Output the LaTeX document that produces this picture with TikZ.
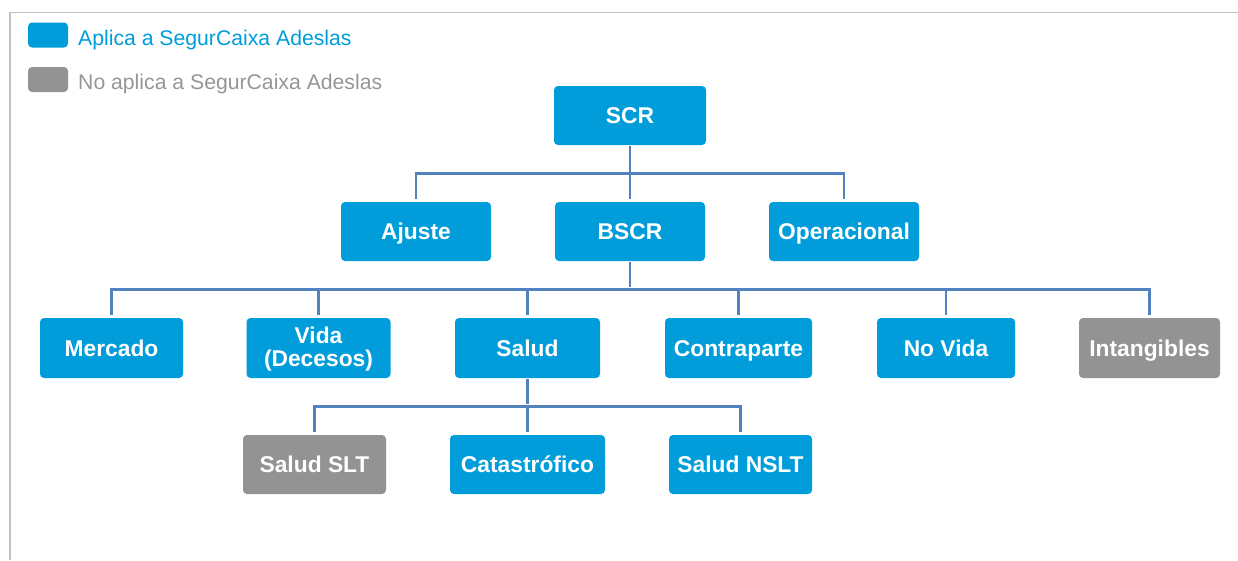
\documentclass[tikz,border=0pt]{standalone}
\usepackage{fontspec}
\setmainfont{Liberation Sans}
\usetikzlibrary{calc}
\definecolor{boxblue}{RGB}{0,157,218}
\definecolor{boxgray}{RGB}{147,147,147}
\definecolor{linkblue}{RGB}{83,131,190}
\definecolor{framegray}{RGB}{192,192,192}
\definecolor{leggray}{RGB}{150,150,150}
\tikzset{
  box/.style={fill=boxblue, rounded corners=4pt, text=white, align=center,
    font=\bfseries\fontsize{22.8}{23}\selectfont, inner sep=0pt,
    text height=16.3pt, text depth=0pt},
  graybox/.style={box, fill=boxgray},
  conn/.style={draw=linkblue, line width=2.5pt, shorten <=1pt, shorten >=3pt},
  swatch/.style={rounded corners=4pt, minimum width=40pt, minimum height=25pt, inner sep=0pt},
  legtext/.style={anchor=west, inner sep=0pt, font=\fontsize{21.2}{24}\selectfont},
}
\begin{document}
\begin{tikzpicture}[x=1pt,y=-1pt]
\useasboundingbox (0,0) rectangle (1238,560);
% frame
\draw[framegray, line width=1.5pt] (10,560) -- (10,12.5) -- (1238,12.5);
% legend
\node[swatch, fill=boxblue] (swb) at (48,35) {};
\node[legtext, text=boxblue] (legb) at (78,40) {Aplica a SegurCaixa Adeslas};
\node[swatch, fill=boxgray] (swg) at (48,79.5) {};
\node[legtext, text=leggray] (legg) at (78,84) {No aplica a SegurCaixa Adeslas};
% level 1
\node[box, minimum width=152pt, minimum height=59pt] (scr) at (630,115.5) {SCR};
% level 2
\node[box, minimum width=150pt, minimum height=59pt] (ajuste) at (416,231.5) {Ajuste};
\node[box, minimum width=150pt, minimum height=59pt] (bscr) at (630,231.5) {BSCR};
\node[box, minimum width=150pt, minimum height=59pt] (oper) at (844,231.5) {Operacional};
% level 3
\node[box, minimum width=143pt, minimum height=60pt] (mercado) at (111.5,348) {Mercado};
\node[box, minimum width=144pt, minimum height=60pt, text height=39.3pt, text depth=3.3pt] (vida) at (318.5,348) {Vida\\(Decesos)};
\node[box, minimum width=145pt, minimum height=60pt] (salud) at (527.5,348) {Salud};
\node[box, minimum width=147pt, minimum height=60pt] (contra) at (738.5,348) {Contraparte};
\node[box, minimum width=138pt, minimum height=60pt] (novida) at (946,348) {No Vida};
\node[graybox, minimum width=141pt, minimum height=60pt] (intang) at (1149.5,348) {Intangibles};
% level 4
\node[graybox, minimum width=143pt, minimum height=59pt] (sslt) at (314.5,464.5) {Salud SLT};
\node[box, minimum width=155pt, minimum height=59pt] (cat) at (527.5,464.5) {Catastrófico};
\node[box, minimum width=143pt, minimum height=59pt] (snslt) at (740.5,464.5) {Salud NSLT};
% bar coordinates
\coordinate (b1) at ($(scr.south)!0.5!(bscr.north)$);
\coordinate (b2) at ($(bscr.south)!0.5!(salud.north -| bscr.south)$);
\coordinate (b3) at ($(salud.south)!0.5!(cat.north -| salud.south)$);
% connectors
\draw[conn] (scr.south) -- (bscr.north);
\draw[conn, shorten <=3pt] (ajuste.north) |- (b1) -| (oper.north);
\draw[conn] (bscr.south) -- (b2);
\draw[conn, shorten <=3pt] (mercado.north) |- (b2) -| (intang.north);
\draw[conn, shorten <=0pt] (b2 -| vida.north) -- (vida.north);
\draw[conn, shorten <=0pt] (b2 -| salud.north) -- (salud.north);
\draw[conn, shorten <=0pt] (b2 -| contra.north) -- (contra.north);
\draw[conn, shorten <=0pt] (b2 -| novida.north) -- (novida.north);
\draw[conn] (salud.south) -- (b3);
\draw[conn, shorten <=3pt] (sslt.north) |- (b3) -| (snslt.north);
\draw[conn, shorten <=0pt] (b3 -| cat.north) -- (cat.north);
\end{tikzpicture}
\end{document}
